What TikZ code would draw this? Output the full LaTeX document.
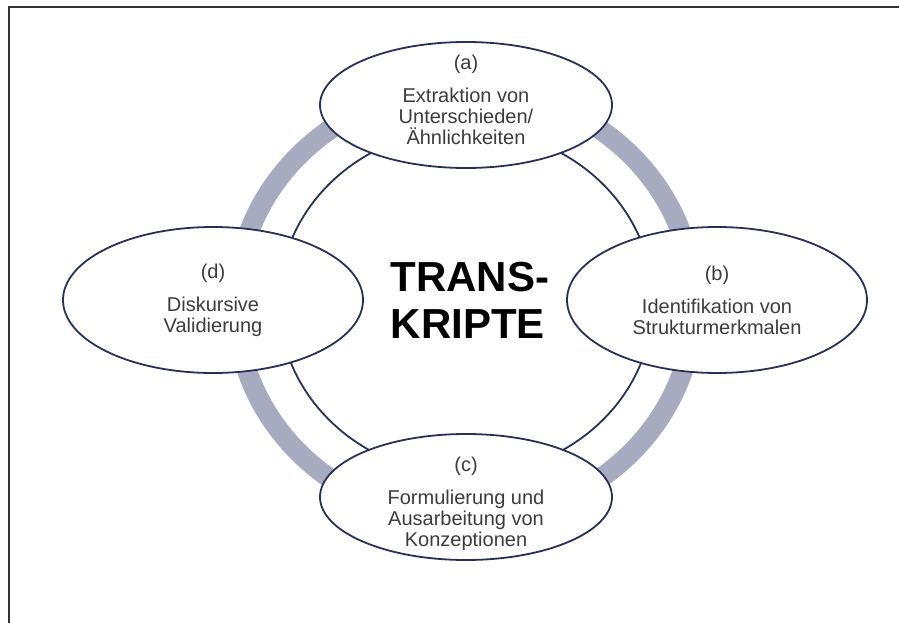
\documentclass[tikz,border=0pt]{standalone}
\usepackage{fontspec}
\setmainfont{Liberation Sans}
\usepackage{tikz}
\usetikzlibrary{shapes.geometric}
\definecolor{OvalBlue}{HTML}{28305A}
\definecolor{RingGray}{HTML}{A7ABBF}
\definecolor{TextGray}{HTML}{3C3C3C}

\begin{document}
\begin{tikzpicture}[x=1pt, y=-1pt,
      oval/.style={ellipse, draw=OvalBlue, line width=1.8pt,
         fill=white, inner sep=0pt},
      ovaltext/.style={align=center, text=TextGray,
         font=\fontsize{20}{21}\selectfont}]
      \useasboundingbox (0,0) rectangle (899,623);

      \draw [line width=2pt, black!80] (9,623) -- (9,7) -- (899,7);

      \draw [RingGray, line width=20pt] (465,304)
         ellipse [x radius=229pt, y radius=216pt];
      \draw [OvalBlue, line width=1.8pt] (466,302)
         ellipse [x radius=187pt, y radius=173pt];

      \node (a) at (466,105) [oval, minimum width=292pt, minimum height=126pt] {};
      \node (b) at (717,300) [oval, minimum width=300pt, minimum height=146pt] {};
      \node (c) at (466,497) [oval, minimum width=292pt, minimum height=126pt] {};
      \node (d) at (213,300) [oval, minimum width=300pt, minimum height=146pt] {};

      \node (a-text) at ([yshift=5pt]a.center) [ovaltext]
         {(a)\\[12pt]Extraktion von\\Unterschieden/\\Ähnlichkeiten};
      \node (b-text) at (b.center) [ovaltext]
         {(b)\\[12pt]Identifikation von\\Strukturmerkmalen};
      \node (c-text) at ([yshift=-7pt]c.center) [ovaltext]
         {(c)\\[12pt]Formulierung und\\Ausarbeitung von\\Konzeptionen};
      \node (d-text) at (d.center) [ovaltext]
         {(d)\\[12pt]Diskursive\\Validierung};

      \node (title) at (470,300) [align=left,
         font=\bfseries\fontsize{42}{47}\selectfont] {TRANS-\\KRIPTE};
   \end{tikzpicture}
\end{document}
